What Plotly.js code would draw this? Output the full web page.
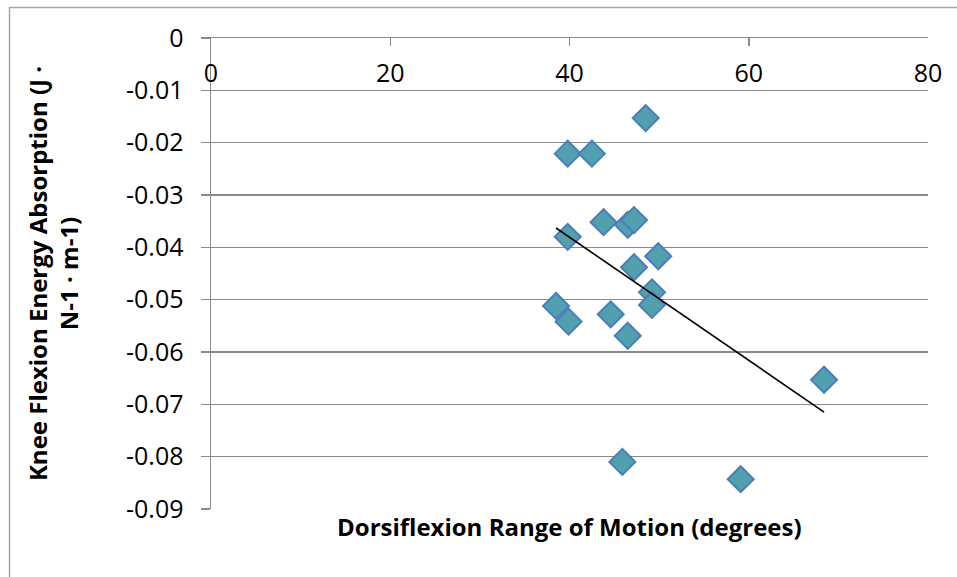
<!DOCTYPE html>
<html>
<head>
<meta charset="utf-8">
<script src="https://cdn.plot.ly/plotly-3.0.1.min.js"></script>
<style>
  html, body { margin: 0; padding: 0; background: #ffffff; }
  #chart { width: 957px; height: 577px; }
</style>
</head>
<body>
<div id="chart"></div>
<script>
// Dorsiflexion range of motion (degrees)
const dorsiflexionROM = [48.5, 39.8, 42.5, 43.8, 46.5, 47.2, 39.8, 49.9, 47.2, 49.2, 49.2, 38.5, 39.9, 44.6, 46.5, 68.4, 59.1, 45.9];
// Knee flexion energy absorption (J · N-1 · m-1)
const kneeEnergyAbsorption = [-0.0153, -0.0221, -0.0221, -0.0352, -0.0357, -0.0348, -0.0380, -0.0417, -0.0438, -0.0486, -0.0510, -0.0512, -0.0542, -0.0528, -0.0569, -0.0653, -0.0843, -0.0810];

const xTickVals = [0, 20, 40, 60, 80];
const xTickLabels = ['0', '20', '40', '60', '80'];
const yTickVals = [0, -0.01, -0.02, -0.03, -0.04, -0.05, -0.06, -0.07, -0.08, -0.09];
const yTickLabels = ['0', '-0.01', '-0.02', '-0.03', '-0.04', '-0.05', '-0.06', '-0.07', '-0.08', '-0.09'];

const xTitle = 'Dorsiflexion Range of Motion (degrees)';
const yTitle = 'Knee Flexion Energy Absorption (J ·<br>N-1 · m-1)';

// Linear trendline (least squares) computed from the data
const n = dorsiflexionROM.length;
const mx = dorsiflexionROM.reduce((a, b) => a + b, 0) / n;
const my = kneeEnergyAbsorption.reduce((a, b) => a + b, 0) / n;
let sxy = 0, sxx = 0;
for (let i = 0; i < n; i++) {
  sxy += (dorsiflexionROM[i] - mx) * (kneeEnergyAbsorption[i] - my);
  sxx += (dorsiflexionROM[i] - mx) ** 2;
}
const slope = sxy / sxx;
const intercept = my - slope * mx;
const xMin = Math.min(...dorsiflexionROM);
const xMax = Math.max(...dorsiflexionROM);
const trendX = [xMin, xMax];
const trendY = trendX.map(x => intercept + slope * x);

const gridGray = '#8a8a8a';
const tickFont = { family: 'Open Sans, sans-serif', size: 25, color: '#000000' };
const titleFont = { family: 'Open Sans, sans-serif', size: 24, color: '#000000', weight: 'bold' };

const data = [
  {
    type: 'scatter',
    mode: 'markers',
    x: dorsiflexionROM,
    y: kneeEnergyAbsorption,
    marker: { symbol: 'diamond', size: 20, color: '#52A0AE', line: { color: '#4A7EBB', width: 2 } },
    showlegend: false,
    hoverinfo: 'x+y'
  },
  {
    type: 'scatter',
    mode: 'lines',
    x: trendX,
    y: trendY,
    line: { color: '#000000', width: 1.6 },
    showlegend: false,
    hoverinfo: 'skip'
  }
];

const layout = {
  width: 957,
  height: 577,
  margin: { l: 211, r: 29, t: 38, b: 68, pad: 0 },
  paper_bgcolor: '#ffffff',
  plot_bgcolor: '#ffffff',
  showlegend: false,
  xaxis: {
    range: [0, 80],
    side: 'top',
    tickvals: xTickVals,
    ticktext: xTickLabels,
    showgrid: false,
    zeroline: false,
    showline: true,
    linecolor: gridGray,
    linewidth: 1.5,
    ticks: 'inside',
    ticklen: 8,
    tickwidth: 1.5,
    tickcolor: gridGray,
    ticklabelposition: 'inside',
    ticklabelstandoff: 20,
    ticklabeloverflow: 'allow',
    tickfont: tickFont,
    fixedrange: true
  },
  yaxis: {
    range: [-0.09, 0],
    tickvals: yTickVals,
    ticktext: yTickLabels,
    showgrid: true,
    gridcolor: gridGray,
    gridwidth: 1.5,
    zeroline: false,
    showline: true,
    linecolor: gridGray,
    linewidth: 1.5,
    ticks: 'outside',
    ticklen: 9,
    tickwidth: 1.5,
    tickcolor: gridGray,
    ticklabelstandoff: 12,
    tickfont: tickFont,
    title: { text: yTitle, font: titleFont, standoff: 40 },
    fixedrange: true
  },
  annotations: [
    {
      xref: 'paper', yref: 'paper',
      x: 0.5, y: 0, yshift: 1,
      xanchor: 'center', yanchor: 'top',
      text: xTitle,
      showarrow: false,
      font: titleFont
    }
  ],
  shapes: [
    {
      type: 'rect', xref: 'paper', yref: 'paper',
      x0: -0.281, x1: 1.5, y0: -0.5, y1: 1.065,
      line: { color: '#a6a6a6', width: 1.5 },
      fillcolor: 'rgba(0,0,0,0)',
      layer: 'below'
    }
  ]
};

Plotly.newPlot('chart', data, layout, { displayModeBar: false, staticPlot: true });
</script>
</body>
</html>
